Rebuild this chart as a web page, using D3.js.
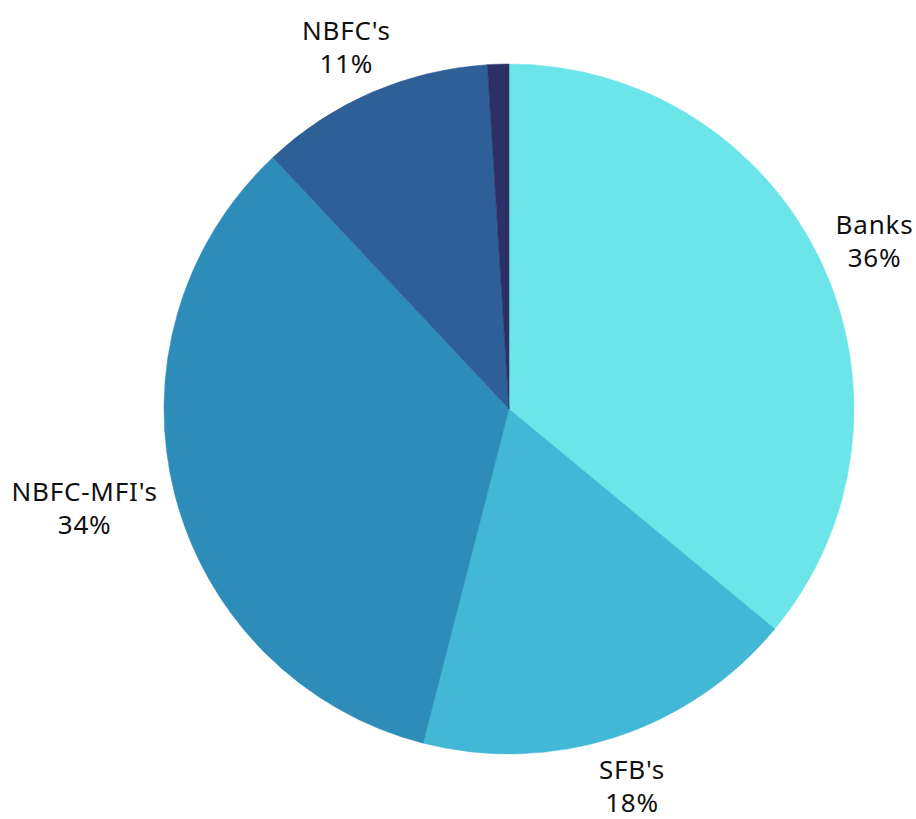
<!DOCTYPE html>
<html><head><meta charset="utf-8">
<script src="https://cdn.jsdelivr.net/npm/d3@7"></script>
<style>html,body{margin:0;padding:0;background:#fff;}svg{display:block;}</style>
</head><body>
<svg id="chart" width="916" height="819"></svg>
<script>
const categories = ["Banks", "SFB's", "NBFC-MFI's", "NBFC's", "Others"];
const values = [36, 18, 34, 11, 1];
const labels = ["36%", "18%", "34%", "11%", null];
const colors = ["#6BE5E8", "#43B8D6", "#2E8CB9", "#2F5F97", "#2C3066"];

const W = 916, H = 819, cx = 509, cy = 409, R = 345;
const svg = d3.select("#chart");
const data = categories.map((c, i) => ({cat: c, value: values[i], label: labels[i], color: colors[i]}));
const pie = d3.pie().value(d => d.value).sort(null);
const arc = d3.arc().innerRadius(0).outerRadius(R);
const g = svg.append("g").attr("transform", `translate(${cx},${cy})`);
const arcs = pie(data);
g.selectAll("path").data(arcs).join("path")
  .attr("d", arc).attr("fill", d => d.data.color)
  .attr("stroke", d => d.data.color).attr("stroke-width", 0.5);

const fs = 26, lh = 33, r0 = 365;
arcs.filter(d => d.data.label).forEach(d => {
  const a = (d.startAngle + d.endAngle) / 2;
  const sx = Math.sin(a), sy = -Math.cos(a);
  const t = g.append("text").attr("text-anchor", "middle")
    .style("font-family", "'Noto Sans', sans-serif").style("font-size", fs + "px")
    .style("letter-spacing", "0.8px").attr("fill", "#111");
  t.append("tspan").attr("x", 0).attr("dy", 0).text(d.data.cat);
  t.append("tspan").attr("x", 0).attr("dy", lh).text(d.data.label);
  const bb = t.node().getBBox();
  const hw = bb.width / 2, hh = bb.height / 2;
  const px = r0 * sx + hw * sx, py = r0 * sy + (hh - 4) * sy;
  const bcx = bb.x + hw, bcy = bb.y + hh;
  t.attr("transform", `translate(${px - bcx},${py - bcy})`);
});
</script>
</body></html>
